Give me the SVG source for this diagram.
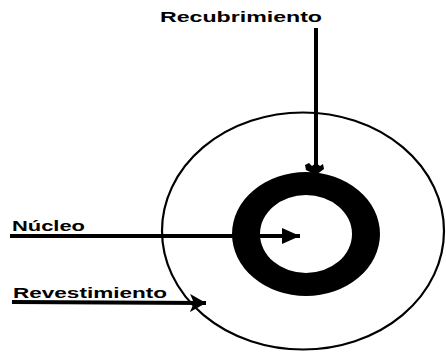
<svg xmlns="http://www.w3.org/2000/svg" width="446" height="354" viewBox="0 0 446 354">
<style>
.lbl{font-family:"Liberation Sans",Arial,sans-serif;font-weight:bold;fill:#000}
.conn{stroke:#000;stroke-width:4;fill:none}
</style>
<defs>
<marker id="ah" markerUnits="userSpaceOnUse" markerWidth="20" markerHeight="18" refX="18" refY="9" orient="auto">
<path d="M0,1 L18,9 L0,17 Z" fill="#000"/>
</marker>
<marker id="ahs" markerUnits="userSpaceOnUse" markerWidth="20" markerHeight="18" refX="16" refY="9" orient="auto">
<path d="M0,0 L16,9 L0,18 L4,9 Z" fill="#000"/>
</marker>
</defs>
<rect width="446" height="354" fill="#fff"/>
<g id="revestimiento-zone">
<ellipse cx="303" cy="231" rx="141" ry="118.5" fill="none" stroke="#000" stroke-width="2.2"/>
</g>
<g id="recubrimiento-ring">
<path fill="#000" fill-rule="evenodd" d="M232,234 a74,62 0 1,0 148,0 a74,62 0 1,0 -148,0 Z M260,234 a46,39 0 1,0 92,0 a46,39 0 1,0 -92,0 Z"/>
</g>
<g id="label-recubrimiento">
<text class="lbl" x="160" y="22" font-size="14" textLength="162" lengthAdjust="spacingAndGlyphs">Recubrimiento</text>
</g>
<g id="label-nucleo">
<text class="lbl" x="12" y="231" font-size="15" textLength="73" lengthAdjust="spacingAndGlyphs">Núcleo</text>
</g>
<g id="label-revestimiento">
<text class="lbl" x="13" y="298" font-size="15" textLength="154" lengthAdjust="spacingAndGlyphs">Revestimiento</text>
</g>
<g id="connectors">
<line class="conn" x1="316" y1="28" x2="316" y2="172"/>
<path d="M305,165 L309,163 L312,166 L316,163 L320,166 L323,164 L324,169 L316,175 L306,170 Z" fill="#000"/>
<line class="conn" x1="10" y1="236" x2="300" y2="236" marker-end="url(#ah)"/>
<path class="conn" d="M12,302 L206,303" marker-end="url(#ahs)"/>
</g>
</svg>
